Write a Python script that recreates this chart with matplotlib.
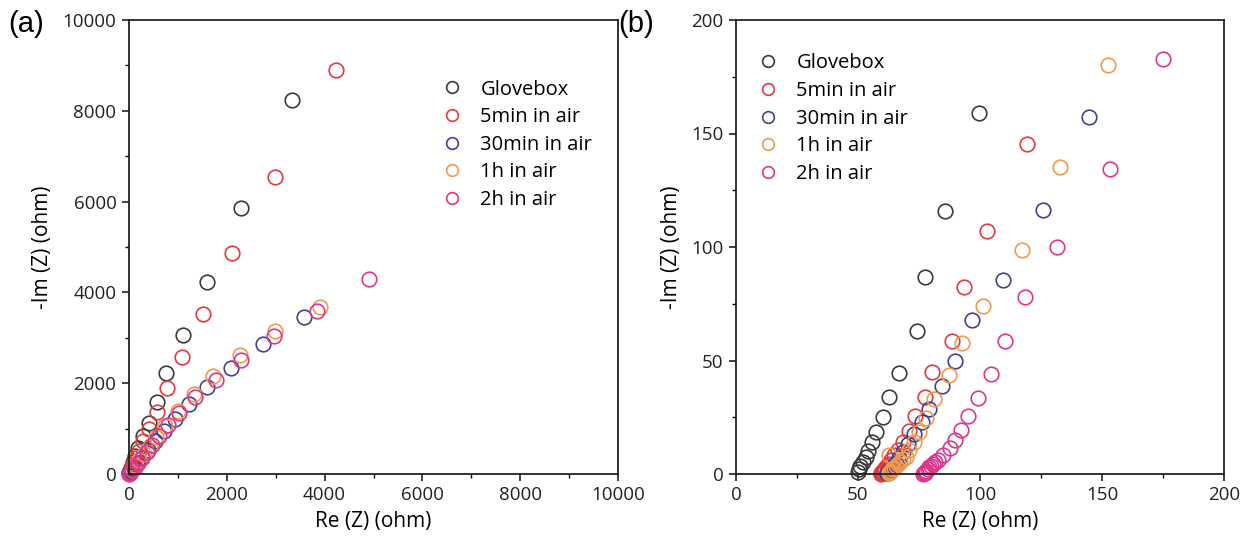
import matplotlib
matplotlib.use("Agg")
import matplotlib.pyplot as plt
from matplotlib.ticker import MultipleLocator

# ---------------- data: panel (a) ----------------
labels = ["Glovebox", "5min in air", "30min in air", "1h in air", "2h in air"]
colors = ["#3a3a3a", "#e23a3f", "#3f4290", "#f2994a", "#e0358c"]

a_glove_x = [6, 18, 40, 75, 123, 184, 286, 409, 573, 757, 1104, 1595, 2290, 3333]
a_glove_y = [15, 60, 140, 260, 405, 582, 847, 1134, 1576, 2217, 3057, 4221, 5863, 8228]
a_5min_x = [5, 18, 45, 85, 140, 211, 292, 409, 579, 783, 1078, 1519, 2106, 2986, 4233]
a_5min_y = [12, 50, 120, 220, 350, 515, 720, 998, 1361, 1885, 2577, 3520, 4868, 6548, 8890]
a_30min_x = [10, 40, 100, 165, 265, 390, 530, 715, 940, 1227, 1589, 2079, 2734, 3585]
a_30min_y = [25, 70, 140, 250, 380, 535, 735, 955, 1220, 1547, 1914, 2343, 2857, 3461]
a_1h_x = [20, 60, 120, 200, 300, 420, 560, 740, 995, 1336, 1724, 2270, 2986, 3906]
a_1h_y = [30, 90, 180, 300, 440, 620, 820, 1060, 1383, 1768, 2150, 2630, 3151, 3668]
a_2h_x = [5, 25, 65, 120, 190, 270, 362, 464, 607, 791, 1022, 1350, 1779, 2297, 2965, 3838, 4915]
a_2h_y = [8, 30, 80, 150, 240, 350, 486, 647, 840, 1074, 1348, 1693, 2077, 2504, 3034, 3594, 4287]

# ---------------- data: panel (b) ----------------
b_glove_x = [49.9, 50.3, 51.0, 52.1, 53.1, 54.2, 55.9, 57.5, 60.2, 62.5, 67.0, 74.2, 77.6, 85.5, 99.4]
b_glove_y = [1.0, 2.1, 3.5, 5.4, 7.6, 10.3, 14.0, 18.6, 25.3, 33.8, 44.4, 63.0, 86.7, 115.7, 158.9]
b_5min_x = [59.3, 59.5, 59.7, 60.0, 60.3, 60.7, 61.2, 61.8, 62.6, 63.6, 64.8, 66.3, 68.4, 71.1,
            73.4, 77.6, 80.2, 88.6, 93.6, 102.9, 119.1]
b_5min_y = [0.2, 0.4, 0.6, 0.9, 1.3, 1.8, 2.5, 3.4, 4.6, 6.2, 8.2, 10.6, 14.2, 19.1,
            25.6, 33.8, 45.1, 58.7, 82.5, 107.0, 145.4]
b_30min_x = [62.0, 62.3, 62.7, 63.2, 63.8, 64.6, 65.6, 66.9, 68.5, 70.5, 73.0, 76.2, 79.3,
             84.4, 89.9, 96.7, 109.4, 125.9, 144.7]
b_30min_y = [0.3, 0.6, 1.0, 1.6, 2.4, 3.5, 5.0, 7.0, 9.6, 13.0, 17.5, 22.8, 28.5,
             38.9, 49.9, 67.8, 85.5, 116.3, 157.1]
b_1h_x = [62.5, 62.8, 63.2, 63.6, 64.1, 64.7, 65.4, 66.3, 67.3, 68.4, 69.5, 71.1, 72.9, 75.2,
          77.9, 81.3, 87.1, 92.5, 101.1, 117.2, 132.7, 152.3, 62.9]
b_1h_y = [0.3, 0.6, 1.0, 1.5, 2.1, 2.8, 3.6, 4.5, 5.5, 6.5, 7.6, 10.6, 14.2, 18.6,
          24.8, 32.9, 43.4, 57.7, 74.0, 98.8, 135.4, 180.2, 8.2]
b_2h_x = [76.8, 77.0, 77.3, 77.6, 78.0, 78.5, 79.0, 79.8, 80.6, 81.6, 82.7, 84.7, 87.5, 89.9,
          92.2, 94.9, 99.3, 104.6, 110.1, 118.5, 131.4, 153.1, 174.9]
b_2h_y = [0.2, 0.4, 0.6, 1.0, 1.5, 2.2, 3.0, 3.7, 4.4, 5.2, 6.2, 8.4, 11.3, 14.8,
          19.4, 25.6, 33.5, 44.2, 58.7, 78.1, 100.2, 134.2, 183.0]

a_series = [(a_glove_x, a_glove_y), (a_5min_x, a_5min_y), (a_30min_x, a_30min_y),
            (a_1h_x, a_1h_y), (a_2h_x, a_2h_y)]
b_series = [(b_glove_x, b_glove_y), (b_5min_x, b_5min_y), (b_30min_x, b_30min_y),
            (b_1h_x, b_1h_y), (b_2h_x, b_2h_y)]

plt.rcParams['font.family'] = ['Open Sans', 'DejaVu Sans']

fig = plt.figure(figsize=(12.44, 5.40), dpi=100)
W, H = 1244, 540
axA = fig.add_axes([129 / W, (540 - 474) / H, 489 / W, 454 / H])
axB = fig.add_axes([736 / W, (540 - 474) / H, 488 / W, 454 / H])


def style(ax, lim, major, minor):
    ax.set_xlim(0, lim)
    ax.set_ylim(0, lim)
    ax.xaxis.set_major_locator(MultipleLocator(major))
    ax.yaxis.set_major_locator(MultipleLocator(major))
    ax.xaxis.set_minor_locator(MultipleLocator(minor))
    ax.yaxis.set_minor_locator(MultipleLocator(minor))
    ax.tick_params(which='major', direction='out', length=5, width=1.2, labelsize=13.5,
                   colors='#222222', pad=4)
    ax.tick_params(which='minor', direction='out', length=3, width=1.0)
    for s in ax.spines.values():
        s.set_linewidth(1.3)
        s.set_color('#222222')
    ax.set_xlabel('Re (Z) (ohm)', fontsize=15, labelpad=5)
    ax.set_ylabel('-Im (Z) (ohm)', fontsize=15, labelpad=7)


for ax, series in ((axA, a_series), (axB, b_series)):
    for (xs, ys), c, lab in zip(series, colors, labels):
        ax.plot(xs, ys, linestyle='none', marker='o', markersize=10.5,
                markerfacecolor='none', markeredgecolor=c, markeredgewidth=1.2,
                label=lab, clip_on=False)

style(axA, 10000, 2000, 1000)
style(axB, 200, 50, 25)

legkw = dict(loc='upper left', frameon=False, fontsize=14.5, handletextpad=0.4,
             labelspacing=0.38, markerscale=0.8, borderaxespad=0)
axA.legend(bbox_to_anchor=(0.603, 0.8866), **legkw)
axB.legend(bbox_to_anchor=(0.008, 0.944), **legkw)

fig.text(8 / W, 1 - 24 / H, '(a)', fontsize=21, family='Liberation Sans', va='center')
fig.text(618 / W, 1 - 24 / H, '(b)', fontsize=21, family='Liberation Sans', va='center')

fig.savefig('out.png', dpi=100)
